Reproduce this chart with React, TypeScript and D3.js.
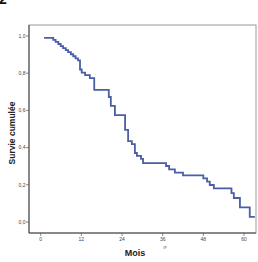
import * as d3 from "d3";

// survival curve
const months = [1, 3.7, 4.4, 5.2, 5.9, 6.6, 7.4, 8.1, 8.9, 9.6, 10.3, 11.0, 11.6, 12.1, 13.1, 14.5, 15.8,
    20.1, 20.7, 21.9, 24.9, 25.8, 26.9, 27.8, 28.4, 29.6, 30.2, 37.0, 37.9, 39.6, 42.0, 48.0, 49.1,
    49.9, 51.1, 56.3, 57.0, 58.8, 61.7, 63.2];
const survival = [0.99, 0.979, 0.968, 0.957, 0.946, 0.935, 0.924, 0.913, 0.902, 0.891, 0.88, 0.869,
    0.82, 0.803, 0.79, 0.773, 0.71, 0.672, 0.624, 0.575, 0.495, 0.435, 0.419, 0.371, 0.355, 0.339,
    0.317, 0.301, 0.283, 0.265, 0.251, 0.235, 0.217, 0.199, 0.181, 0.155, 0.129, 0.079, 0.028, 0.028];

const xTicks = [0, 12, 24, 36, 48, 60];
const yTicks = [0, 0.2, 0.4, 0.6, 0.8, 1.0];

const width = 258;
const height = 262;
const frame = { left: 29, top: 25, right: 256, bottom: 233 };
const font = "'Liberation Sans', Arial, sans-serif";

export default function App() {
    const x = d3.scaleLinear().domain([0, 60]).range([40.7, 244]);
    const y = d3.scaleLinear().domain([0, 1]).range([222, 36]);

    const line = d3.line<number>()
        .x((_, i) => x(months[i]))
        .y(d => y(d))
        .curve(d3.curveStepAfter);

    const fmt = (v: number) => d3.format(".1f")(v).replace(".", ",");

    return (
        <svg width={width} height={height} style={{ position: "absolute", left: 0, top: 0, background: "#fff" }}
            fontFamily={font}>
            <text x={-1} y={4} fontSize={14} fontWeight="bold" fill="#111">2</text>

            {/* frame */}
            <rect x={frame.left} y={frame.top} width={frame.right - frame.left} height={frame.bottom - frame.top}
                fill="#fff" stroke="#9a9a9a" strokeWidth={1} />
            <line x1={frame.left} x2={frame.left} y1={frame.top} y2={frame.bottom} stroke="#444" />
            <line x1={frame.left} x2={frame.right} y1={frame.bottom} y2={frame.bottom} stroke="#444" />

            {/* y axis */}
            {yTicks.map(t => (
                <g key={t}>
                    <line x1={frame.left - 3} x2={frame.left} y1={y(t)} y2={y(t)} stroke="#555" strokeWidth={0.7} />
                    <text x={frame.left - 3.5} y={y(t)} dy="0.35em" textAnchor="end" fontSize={5} fill="#444">{fmt(t)}</text>
                </g>
            ))}

            {/* x axis */}
            {xTicks.map(t => (
                <g key={t}>
                    <line x1={x(t)} x2={x(t)} y1={frame.bottom} y2={frame.bottom + 3} stroke="#555" strokeWidth={0.7} />
                    <text x={x(t)} y={frame.bottom + 8} textAnchor="middle" fontSize={5} fill="#444">{t}</text>
                </g>
            ))}

            <path d={line(survival) ?? ""} fill="none" stroke="#4a5fa5" strokeWidth={1.8} />

            <text x={135} y={256} textAnchor="middle" fontSize={9} fontWeight="bold" fill="#222">Mois</text>
            <text x={165} y={249} textAnchor="middle" fontSize={5} fill="#555">ıᵖ</text>
            <text transform="translate(15,133) rotate(-90)" textAnchor="middle" fontSize={8.5} fontWeight="bold"
                fill="#222">Survie cumulée</text>
        </svg>
    );
}
